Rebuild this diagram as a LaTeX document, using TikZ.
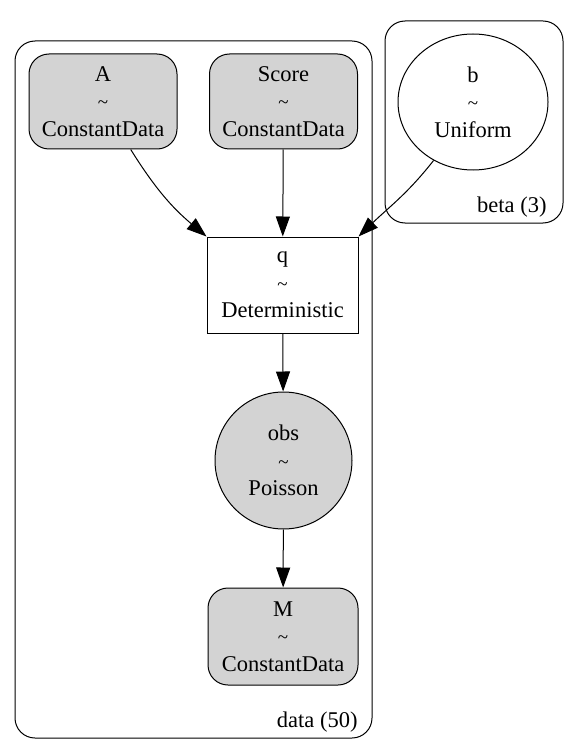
\documentclass[tikz,border=0pt]{standalone}
\usepackage{fontspec}
\setmainfont{Liberation Serif}
\usetikzlibrary{shapes.geometric, arrows.meta}
\definecolor{nodegray}{HTML}{D3D3D3}

\newcommand{\dist}[2]{#1\\{\fontsize{19}{19}\selectfont\textasciitilde}\\#2}

\begin{document}
\begin{tikzpicture}[x=1pt, y=1pt, line width=1pt,
    every node/.style={font=\fontsize{22.5}{27.5}\selectfont, align=center, inner sep=0pt},
    cluster/.style={draw, rounded corners=20pt},
    datanode/.style={draw, fill=nodegray, rounded corners=20pt, minimum width=148pt, minimum height=95pt},
    edge/.style={-{Triangle[length=20pt, width=14pt]}}]
  \useasboundingbox (0,0) rectangle (575,-754);
  % plates
  \draw[cluster] (15,-41) rectangle (372,-738);
  \draw[cluster] (385,-21) rectangle (563,-223);
  \node[anchor=base east] (datalbl) at (358,-727) {data (50)};
  \node[anchor=base east] (betalbl) at (547,-212) {beta (3)};
  % variables
  \node[datanode] (A) at (103,-101.5) {\dist{A}{ConstantData}};
  \node[datanode] (Score) at (283.5,-101.5) {\dist{Score}{ConstantData}};
  \node[draw, ellipse, minimum width=150pt, minimum height=136pt] (b) at (473,-102) {\dist{b}{Uniform}};
  \node[draw, minimum width=151pt, minimum height=96pt] (q) at (282.5,-285) {\dist{q}{Deterministic}};
  \node[draw, circle, fill=nodegray, minimum size=137pt] (obs) at (283.5,-460.5) {\dist{obs}{Poisson}};
  \node[datanode, minimum width=150pt, minimum height=97pt] (M) at (283,-636.5) {\dist{M}{ConstantData}};
  % edges
  \draw[edge] (A.-60) to[out=-58, in=140] (q.north west);
  \draw[edge] (Score) -- (q);
  \draw[edge] (b.-124) to[out=-128, in=44] (q.north east);
  \draw[edge] (q) -- (obs);
  \draw[edge] (obs) -- (M);
\end{tikzpicture}
\end{document}
